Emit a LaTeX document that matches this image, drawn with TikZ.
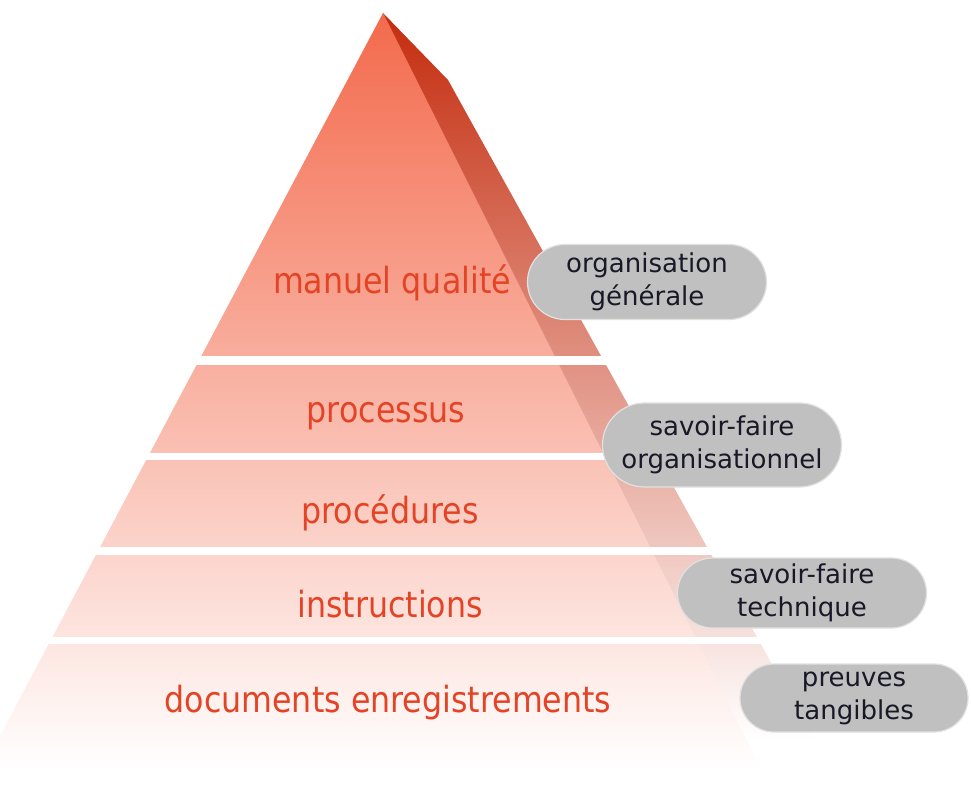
\documentclass[tikz,border=0pt]{standalone}
\usepackage{fontspec}
\setmainfont{DejaVu Sans}
\newfontfamily\lvlfont{DejaVu Sans}[FakeStretch=0.88]
\usetikzlibrary{shapes.misc}
\definecolor{lvltext}{RGB}{228,68,38}
\definecolor{pillfill}{RGB}{192,192,192}
\definecolor{pillline}{RGB}{225,225,225}
\definecolor{pilltext}{RGB}{24,24,38}
\definecolor{fronttop}{RGB}{243,106,76}
\definecolor{frontmid}{RGB}{252,214,203}
\definecolor{sidetop}{RGB}{196,44,14}
\definecolor{sidemid}{RGB}{238,190,178}
\tikzset{
  lvl/.style={font=\lvlfont\fontsize{36}{40}\selectfont, text=lvltext, anchor=base, inner sep=0pt},
  pill/.style={rounded rectangle, fill=pillfill, draw=pillline, line width=1.2pt,
    font=\fontsize{26}{33}\selectfont, text=pilltext, align=center, inner sep=0pt},
  gap/.style={fill=white}
}
\begin{document}
\begin{tikzpicture}[x=1pt,y=-1pt]
\useasboundingbox (0,0) rectangle (971,789);
\clip (0,0) rectangle (971,789);
\fill[white] (0,0) rectangle (971,789);
% front face
\shade[top color=fronttop, middle color=frontmid, bottom color=white]
  (383,13) -- (-18,770) -- (761.5,770) -- cycle;
% side face
\shade[top color=sidetop, middle color=sidemid, bottom color=white]
  (383,13) -- (448,80) -- (814,740) -- (746.5,740) -- cycle;
% white gaps between levels
\fill[gap] (0,356) rectangle (971,365);
\fill[gap] (0,453) rectangle (971,460);
\fill[gap] (0,547) rectangle (971,555);
\fill[gap] (0,637) rectangle (971,644);
% level labels
\node[lvl] (l1) at (392,293) {manuel qualité};
\node[lvl] (l2) at (386,422) {processus};
\node[lvl] (l3) at (390,523) {procédures};
\node[lvl] (l4) at (390,617) {instructions};
\node[lvl] (l5) at (388,712) {documents enregistrements};
% pills
\node[pill, minimum width=239pt, minimum height=75pt] (p1) at (647,282) {organisation\\générale};
\node[pill, minimum width=239pt, minimum height=84pt] (p2) at (722,445) {savoir-faire\\organisationnel};
\node[pill, minimum width=249pt, minimum height=70pt] (p3) at (802,593) {savoir-faire\\technique};
\node[pill, minimum width=228pt, minimum height=68pt] (p4) at (854,698) {preuves\\tangibles};
\end{tikzpicture}
\end{document}
